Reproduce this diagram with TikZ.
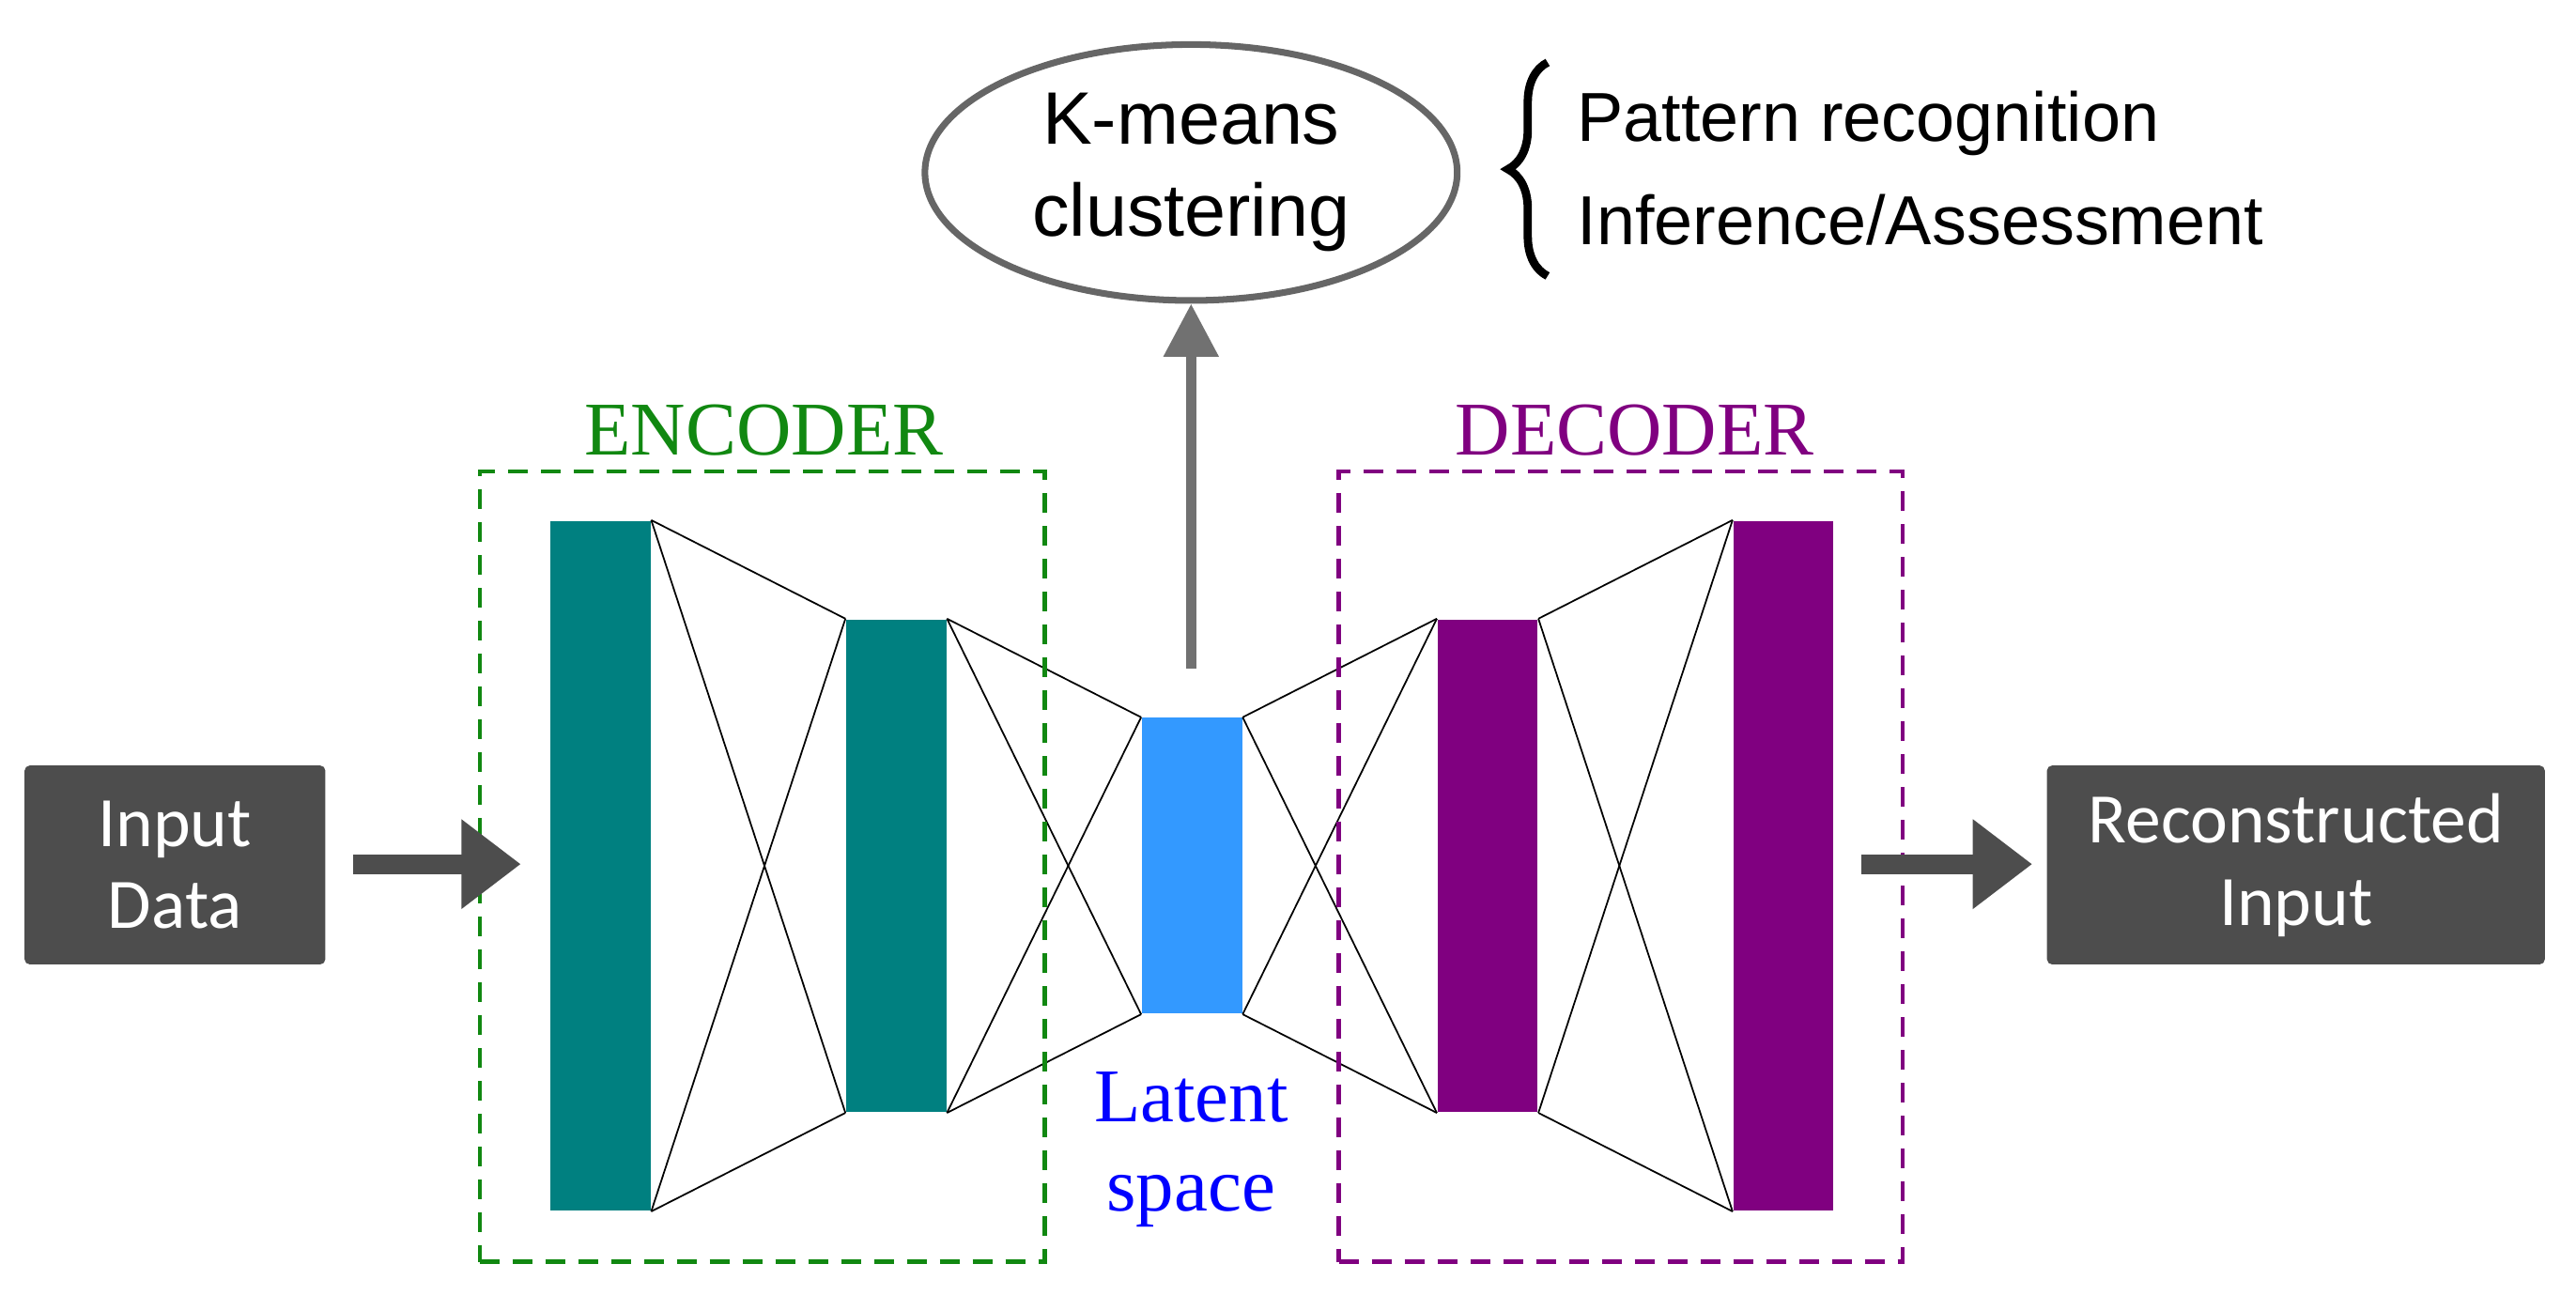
\documentclass[tikz,border=0pt]{standalone}
\usepackage{fontspec}
\setmainfont{Carlito}
\newfontfamily\serifff{Liberation Serif}
\newfontfamily\arialf{Liberation Sans}
\usetikzlibrary{shapes.geometric,arrows.meta,decorations.pathreplacing}
\definecolor{teal2}{HTML}{008080}
\definecolor{purp}{HTML}{800080}
\definecolor{lat}{HTML}{3399FF}
\definecolor{dk}{HTML}{4D4D4D}
\definecolor{encg}{HTML}{118811}
\begin{document}
\begin{tikzpicture}[x=0.01749cm,y=-0.01749cm,
 box/.style={fill=dk,text=white,font=\fontsize{21.5}{25}\selectfont,align=center,inner sep=0,rounded corners=1.5pt},
 bar/.style={inner sep=0,minimum width=61*0.01749cm},
 thin/.style={line width=0.5pt,black},
 fat/.style={draw=dk,line width=6pt,-{Triangle[length=18pt,width=26pt]}},
 dsh/.style={dash pattern=on 12*0.01749cm off 8*0.01749cm,line width=1.3pt},
 lbl/.style={font=\serifff\fontsize{23}{24}\selectfont}]
\useasboundingbox (0,0) rectangle (1568,788);
\node[box,minimum width=183*0.01749cm,minimum height=121*0.01749cm] (in) at (106.5,526.5) {Input\\Data};
\node[box,minimum width=303*0.01749cm,minimum height=121*0.01749cm] (out) at (1397.5,526.5) {Reconstructed\\Input};
\node[bar,fill=teal2,minimum height=420*0.01749cm] (b1) at (365.5,527) {};
\node[bar,fill=teal2,minimum height=300*0.01749cm] (b2) at (545.5,527) {};
\node[bar,fill=lat,minimum height=180*0.01749cm] (b3) at (725.5,527) {};
\node[bar,fill=purp,minimum height=300*0.01749cm] (b4) at (905.5,527) {};
\node[bar,fill=purp,minimum height=420*0.01749cm] (b5) at (1085.5,527) {};
\foreach \a/\b in {b1/b2,b2/b3,b3/b4,b4/b5}{
 \draw[thin] (\a.north east) -- (\b.north west);
 \draw[thin] (\a.north east) -- (\b.south west);
 \draw[thin] (\a.south east) -- (\b.south west);
 \draw[thin] (\a.south east) -- (\b.north west);}
\node[draw=encg,dsh,minimum width=344*0.01749cm,minimum height=481*0.01749cm] (enc) at (464,527.5) {};
\node[draw=purp,dsh,minimum width=343*0.01749cm,minimum height=481*0.01749cm] (dec) at (986.5,527.5) {};
\node[lbl,text=encg] (encl) at (465,262) {ENCODER};
\node[lbl,text=purp] (decl) at (995,262) {DECODER};
\node[lbl,text=blue,align=center,font=\serifff\fontsize{23}{27}\selectfont] (latl) at (725,700) {Latent\\space};
\node[draw=gray!80!black,line width=2pt,ellipse,minimum width=324*0.01749cm,minimum height=140*0.01749cm,align=center,font=\arialf\fontsize{22.5}{28}\selectfont] (km) at (725,105) {K-means\\clustering};
\coordinate (up) at (725,407);
\draw[draw=dk!80,line width=3pt,-{Triangle[length=16pt,width=16pt]}] (up) -- (km.south);
\coordinate (a1) at (215,526); \coordinate (a2) at (317,526);
\draw[fat] (a1) -- (a2);
\coordinate (c1) at (1133,526); \coordinate (c2) at (1237,526);
\draw[fat] (c1) -- (c2);
\coordinate (br1) at (942,168); \coordinate (br2) at (942,38);
\draw[line width=2.5pt,decorate,decoration={brace,amplitude=12pt}] (br1) -- (br2);
\node[anchor=west,font=\arialf\fontsize{21}{24}\selectfont] (t1) at (953,75) {Pattern recognition};
\node[anchor=west,font=\arialf\fontsize{21}{24}\selectfont] (t2) at (953,134) {Inference/Assessment};
\end{tikzpicture}
\end{document}
